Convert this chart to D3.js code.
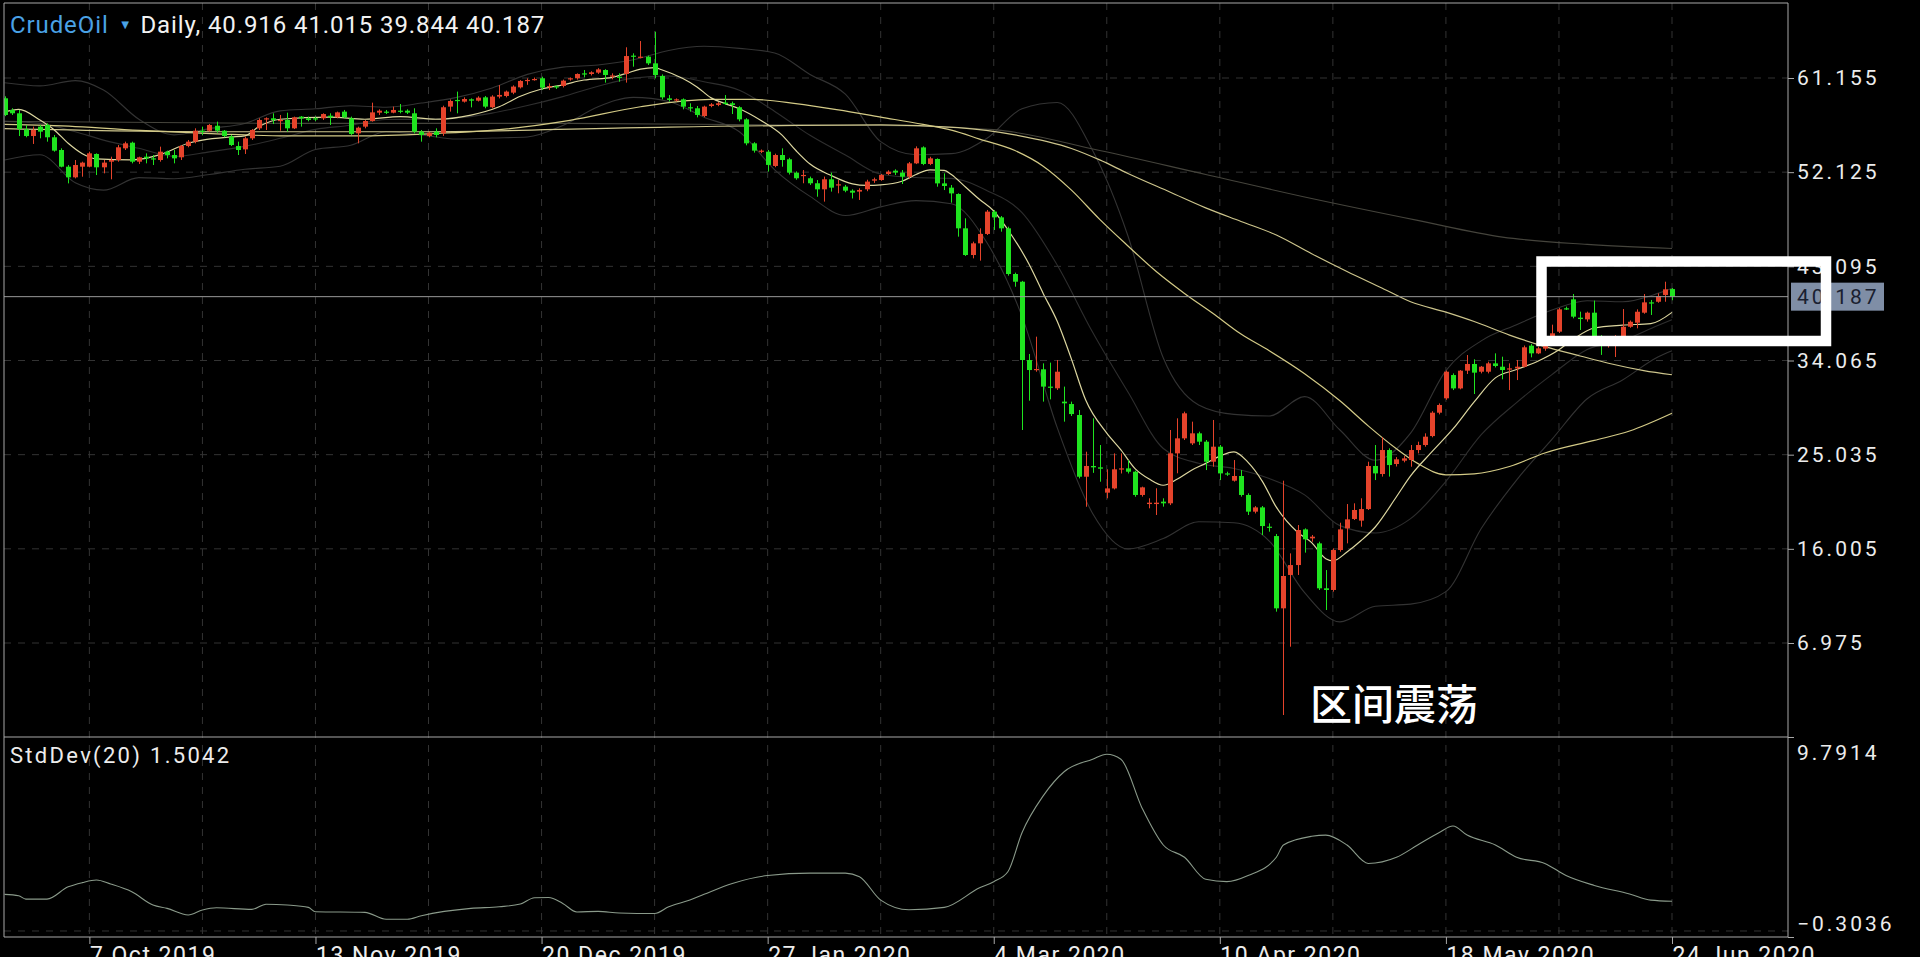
<!DOCTYPE html>
<html><head><meta charset="utf-8">
<script src="https://cdn.jsdelivr.net/npm/d3@7"></script>
<style>
html,body{margin:0;padding:0;background:#000;overflow:hidden}
svg{display:block}
text{font-family:Roboto,"Liberation Sans",sans-serif}
</style></head><body>
<svg id="c" width="1920" height="957"></svg>
<script>
// ---------- DATA ----------
const dateLabels = ["7 Oct 2019","13 Nov 2019","20 Dec 2019","27 Jan 2020","4 Mar 2020","10 Apr 2020","18 May 2020","24 Jun 2020"];
const dateIdx = [12,44,76,108,140,172,204,236];
const priceTicks = [61.155,52.125,43.095,34.065,25.035,16.005,6.975];
const stdTicks = [9.7914,-0.3036];
const lastPrice = 40.187;

const open = [
59.21,58.09,57.77,56.23,55.59,56.49,56.65,55.47,54.25,52.65,
51.63,52.65,52.65,53.87,52.59,53.13,53.29,54.41,54.95,53.13,
53.61,53.45,53.29,54.09,53.77,53.55,54.63,55.05,56.10,56.10,
56.58,56.10,55.53,54.63,54.31,55.37,56.33,57.19,57.29,57.07,
57.13,56.33,57.45,57.29,57.29,57.29,57.54,57.38,57.93,57.29,
55.85,56.49,57.03,57.83,57.93,57.83,58.02,58.02,57.77,56.01,
55.59,56.01,55.85,58.41,59.05,58.89,59.11,58.98,59.30,58.35,
59.37,59.43,59.75,60.26,60.87,61.00,61.13,60.26,60.36,60.39,
61.03,61.13,61.60,61.54,61.67,61.92,61.34,61.28,61.54,63.30,
63.10,63.20,62.56,61.35,59.20,59.05,59.11,58.35,58.25,57.51,
58.47,58.57,58.79,58.73,58.35,57.19,54.89,54.09,54.09,52.72,
53.77,53.36,52.08,51.76,51.54,51.06,50.48,51.44,50.90,50.74,
50.35,50.26,50.48,51.31,51.37,51.95,52.27,52.08,51.69,52.97,
54.50,52.91,53.39,51.05,50.64,50.03,46.74,44.18,45.30,46.20,
48.34,47.79,46.74,42.36,41.62,34.11,33.15,33.22,31.56,31.40,
30.12,29.89,28.84,22.92,23.95,23.82,21.39,21.80,23.63,23.72,
23.40,21.17,20.30,20.30,20.53,20.37,25.16,26.60,26.12,27.08,
26.28,24.36,25.80,23.24,22.54,22.99,21.17,19.57,19.98,18.13,
17.23,10.30,13.50,14.45,17.87,17.01,16.53,12.22,12.06,15.89,
17.97,18.87,18.71,19.82,23.95,23.18,25.48,24.14,24.46,24.52,
25.48,25.96,26.82,29.06,30.44,32.67,31.39,33.09,33.73,32.99,
32.99,33.79,33.47,33.22,33.31,33.47,35.49,34.75,35.20,35.90,
36.83,39.07,39.93,38.17,38.01,38.65,36.30,35.70,35.90,36.35,
37.30,37.69,38.65,39.64,39.70,40.35,40.916];
const high = [
59.40,58.25,58.09,56.65,56.49,56.65,56.81,55.69,54.41,52.81,
53.29,53.13,54.09,53.93,53.29,53.61,54.73,55.05,55.05,53.61,
53.93,53.77,54.57,54.19,54.25,54.73,55.21,56.33,56.49,56.74,
56.97,56.17,55.69,55.05,55.53,56.26,57.29,57.38,57.77,57.61,
57.83,57.45,57.51,57.45,57.45,57.77,57.77,57.93,58.09,57.45,
56.49,57.13,58.79,58.15,58.09,58.41,58.66,58.15,58.25,56.17,
56.01,56.33,58.50,59.10,59.85,59.30,59.20,59.40,59.43,59.50,
60.48,59.95,60.45,60.95,61.12,61.20,61.28,60.64,60.45,61.00,
61.20,61.60,61.92,61.80,62.10,62.00,61.60,61.60,64.10,63.52,
64.70,63.30,65.60,61.50,59.52,59.20,59.20,58.73,58.47,58.50,
58.75,58.85,59.52,58.89,58.45,57.30,55.00,54.30,54.25,53.90,
54.41,53.50,52.20,52.33,51.70,51.37,51.70,52.08,51.37,50.90,
50.48,50.58,51.40,51.60,51.95,52.30,52.40,52.33,53.10,54.60,
54.60,53.60,53.45,52.01,50.89,50.10,47.70,45.46,46.74,48.50,
48.50,47.92,46.90,42.49,41.70,34.69,36.35,33.79,33.86,34.11,
31.56,30.12,29.32,25.32,28.52,25.96,23.63,25.16,25.16,24.52,
23.50,21.97,20.85,21.81,20.85,27.40,28.52,29.16,28.20,27.24,
26.44,28.36,25.96,23.40,24.52,23.55,21.33,20.10,20.11,18.45,
17.43,22.54,15.57,18.29,17.97,17.33,16.69,13.97,16.05,18.51,
20.30,20.37,20.85,24.36,25.96,26.70,25.64,24.80,24.90,25.96,
26.28,27.08,29.20,29.95,33.10,32.83,33.15,34.59,34.18,33.54,
33.95,34.75,34.43,33.79,34.11,35.50,35.65,35.40,36.10,37.50,
39.10,39.23,40.44,38.75,38.75,39.81,36.50,36.30,36.50,39.00,
37.90,38.97,40.44,39.87,40.50,41.62,41.015];
const low = [
57.50,57.61,55.59,55.47,54.83,55.37,55.05,54.09,52.59,51.05,
51.53,51.69,52.59,51.85,52.01,51.44,53.13,54.25,52.97,52.91,
52.97,52.81,53.13,53.45,52.97,53.29,54.51,54.89,55.69,56.01,
55.91,55.47,54.63,53.77,53.87,55.21,56.17,56.17,56.74,56.10,
56.01,56.26,56.49,57.00,57.03,57.13,56.65,57.29,57.29,55.69,
54.89,56.33,56.97,57.61,57.70,57.77,57.77,57.70,55.85,55.05,
55.47,55.47,55.60,57.93,57.77,58.80,58.34,58.90,58.25,58.25,
59.20,59.30,59.60,60.15,60.50,60.90,60.00,60.00,60.10,60.25,
60.90,61.00,61.22,61.40,61.55,60.71,61.03,60.80,60.71,62.24,
63.04,62.40,61.12,59.10,58.89,58.90,58.15,57.93,57.38,57.40,
58.35,58.45,58.57,57.70,57.00,54.70,54.00,53.95,52.18,52.60,
52.65,51.90,51.40,51.06,50.90,49.77,49.30,50.26,50.10,50.20,
49.60,49.46,50.30,51.10,51.30,51.85,51.85,50.99,51.50,52.90,
52.80,52.80,50.73,50.41,49.20,45.94,44.09,43.86,43.64,46.10,
46.58,46.42,42.20,41.14,27.40,30.21,32.99,30.12,30.34,31.24,
28.20,28.74,22.76,20.04,23.29,22.44,20.85,21.70,23.23,23.23,
21.00,21.01,19.89,19.25,20.05,20.20,23.25,26.44,25.96,25.96,
23.56,23.88,22.60,23.00,22.45,21.01,19.25,19.40,17.33,17.65,
9.98,0.07,6.62,13.50,15.64,16.69,12.06,10.14,11.90,15.73,
16.53,18.77,18.13,19.73,22.60,22.93,22.93,23.90,24.30,23.88,
25.16,25.80,26.70,28.90,30.30,31.23,31.30,32.77,30.85,32.83,
32.83,33.40,32.26,31.23,32.19,33.40,34.37,34.68,35.00,35.80,
36.70,38.91,38.11,36.99,37.79,36.30,34.60,35.30,34.40,36.20,
37.20,37.15,38.55,38.43,39.60,39.70,39.844];
const close = [
57.61,57.77,56.26,55.59,56.17,56.01,55.47,54.19,52.65,51.63,
52.81,53.04,53.93,52.59,53.04,53.29,54.51,54.89,53.13,53.55,
53.45,53.36,54.09,53.77,53.45,54.63,55.05,56.10,56.01,56.65,
56.10,55.59,54.73,54.25,55.37,56.17,57.13,57.29,57.13,57.13,
56.33,57.38,57.29,57.13,57.19,57.70,57.38,57.86,57.38,55.79,
56.39,57.03,57.86,58.02,57.83,58.09,57.93,57.83,56.01,55.69,
55.91,55.69,58.35,58.95,58.98,59.14,58.98,59.27,58.41,59.37,
59.53,59.85,60.33,60.87,60.97,61.06,60.23,60.38,60.29,60.90,
61.13,61.54,61.51,61.70,61.98,61.44,61.40,61.22,63.26,63.20,
63.20,62.56,61.44,59.30,59.05,59.11,58.41,58.25,57.61,58.41,
58.63,58.73,58.66,58.57,57.19,54.89,54.19,54.19,52.82,53.77,
53.29,52.08,51.54,51.86,51.06,50.48,51.44,50.64,50.96,50.35,
50.16,50.42,51.22,51.44,51.85,52.17,52.08,51.69,52.97,54.41,
52.91,53.45,51.05,50.80,50.09,46.74,44.18,45.30,46.20,48.34,
47.79,46.74,42.36,41.62,34.11,33.15,33.25,31.56,31.46,32.99,
29.96,28.93,22.92,23.95,23.82,23.69,21.80,23.63,23.72,23.40,
21.17,21.90,20.43,20.43,20.37,25.16,26.60,29.00,27.08,26.28,
24.36,25.80,23.24,23.18,22.99,21.17,19.57,19.98,18.19,18.07,
10.30,13.40,14.45,17.81,16.92,17.17,12.22,12.06,15.89,17.87,
18.83,19.73,19.82,23.95,23.24,25.48,24.04,24.59,24.68,25.48,
25.96,26.76,29.06,29.80,32.99,31.39,33.09,33.73,32.90,33.47,
33.79,33.54,33.15,33.31,33.47,35.33,34.75,35.23,35.90,36.67,
38.97,38.97,38.27,38.04,38.65,36.35,35.70,36.00,36.30,37.30,
37.78,38.74,39.64,39.55,40.25,40.89,40.187];

// moving averages and bands, read as [bar, value] at sample bars
const ma10 = [[0,57.9],[2,58.15],[5,57.13],[7,56.2],[9,54.9],[11,53.9],[13,53.4],[18,53.3],[22,53.8],[26,54.9],[28,55.2],[32,55.5],[34,55.6],[36,56.5],[39,57.2],[46,57.4],[51,57.2],[56,57.45],[61,57.2],[66,57.6],[70,58.4],[73,59.4],[76,60.1],[79,60.5],[82,60.96],[86,61.22],[88,61.6],[90,62.0],[92,62.15],[93,61.95],[96,61.1],[98,60.3],[100,59.25],[102,58.7],[104,58.2],[107,57.1],[110,55.7],[112,54.2],[114,52.9],[117,51.8],[120,51.0],[122,50.85],[124,50.9],[127,51.25],[129,51.9],[131,52.35],[133,52.3],[134,51.9],[136,50.7],[138,49.5],[140,48.4],[142,46.6],[145,43.3],[147,40.5],[149,37.8],[151,34.2],[153,30.3],[156,27.1],[158,25.5],[160,23.7],[162,22.7],[164,22.1],[166,22.7],[168,23.55],[170,24.2],[172,24.9],[174,25.3],[176,24.3],[178,22.5],[180,20.0],[183,17.6],[185,16.6],[187,15.06],[188,14.85],[190,15.7],[192,16.8],[194,18.1],[197,21.0],[199,23.0],[202,25.3],[205,27.5],[208,30.1],[211,32.4],[214,33.2],[217,34.0],[220,35.1],[222,36.1],[225,37.18],[229,37.46],[233,37.6],[236,38.68]];
const ma60 = [[0,56.7],[10,56.5],[20,56.1],[30,55.8],[40,55.6],[50,55.6],[60,55.8],[70,56.2],[80,57.1],[90,58.4],[100,59.1],[106,59.1],[112,58.7],[118,58.1],[124,57.4],[130,56.7],[134,56.15],[138,55.3],[143,54.2],[147,52.7],[151,50.4],[155,47.6],[159,45.05],[163,42.6],[167,40.5],[171,38.6],[175,36.6],[179,35.0],[184,32.8],[189,30.2],[193,27.8],[197,25.6],[200,24.2],[204,23.1],[208,23.2],[213,23.9],[218,25.2],[225,26.4],[230,27.3],[236,29.0]];
const ma120 = [[0,56.3],[30,56.0],[60,56.0],[90,56.4],[124,56.66],[135,56.4],[143,55.7],[151,54.4],[155,53.3],[159,52.0],[165,50.2],[170,48.7],[175,47.4],[180,46.1],[185,44.3],[190,42.6],[195,41.0],[199,39.7],[204,38.7],[208,37.8],[213,36.5],[218,35.4],[223,34.5],[227,33.8],[232,33.1],[236,32.7]];
const ma240 = [[0,57.0],[40,56.8],[80,56.8],[124,56.6],[140,56.2],[155,54.2],[170,51.9],[185,49.6],[200,47.5],[212,45.9],[224,45.2],[236,44.8]];
const bbMid = [[0,57.0],[5,56.8],[10,56.0],[14,55.2],[19,54.41],[24,53.64],[29,54.07],[34,54.6],[39,55.37],[44,56.23],[49,56.62],[54,57.17],[59,57.21],[64,57.33],[69,57.79],[74,58.51],[79,59.37],[84,60.37],[89,61.14],[94,61.34],[99,60.79],[104,59.98],[109,57.95],[114,55.66],[119,53.77],[124,51.93],[129,51.61],[134,51.53],[139,50.37],[144,48.25],[149,43.2],[154,36.77],[159,31.04],[164,25.63],[169,24.21],[174,23.71],[179,22.75],[184,21.18],[189,18.23],[194,17.53],[199,18.9],[204,22.48],[209,26.95],[214,30.03],[219,32.71],[224,35.13],[229,35.98],[234,37.43],[236,37.98]];
const bbUp = [[0,60.7],[5,60.4],[10,60.9],[14,60.0],[19,57.2],[24,55.7],[29,56.3],[34,56.8],[39,58.0],[44,58.2],[49,58.5],[54,58.35],[59,58.75],[64,59.3],[69,60.2],[74,61.5],[79,62.2],[84,62.4],[89,62.9],[94,63.8],[99,64.2],[104,64.0],[109,63.55],[114,61.5],[119,59.6],[124,55.05],[129,53.8],[134,53.9],[139,55.35],[144,58.2],[149,58.8],[154,54.2],[159,46.0],[164,34.3],[169,29.8],[174,28.9],[179,28.75],[184,30.6],[189,27.4],[194,24.5],[199,27.1],[204,33.1],[209,35.95],[214,37.5],[219,38.9],[224,39.8],[229,39.7],[234,40.5],[236,41.0]];
const bbLow = [[0,53.3],[5,53.8],[10,51.1],[14,50.4],[19,51.6],[24,51.5],[29,51.9],[34,52.4],[39,52.7],[44,54.3],[49,54.7],[54,56.0],[59,55.7],[64,55.3],[69,55.4],[74,55.5],[79,56.6],[84,58.4],[89,59.3],[94,58.9],[99,57.4],[104,56.0],[109,52.35],[114,49.8],[119,47.97],[124,48.8],[129,49.4],[134,49.1],[139,45.4],[144,38.3],[149,27.6],[154,19.4],[159,16.0],[164,17.0],[169,18.6],[174,18.5],[179,16.75],[184,11.8],[189,9.0],[194,10.5],[199,10.7],[204,11.9],[209,17.95],[214,22.6],[219,26.5],[224,30.4],[229,32.2],[234,34.4],[236,35.0]];
const stdDev = [[0,1.85],[2,1.78],[3,1.61],[6,1.61],[9,2.23],[11,2.44],[13,2.57],[15,2.37],[18,1.98],[21,1.31],[23,1.14],[26,0.81],[28,1.06],[30,1.17],[35,1.09],[37,1.35],[40,1.31],[43,1.19],[44,0.97],[51,0.94],[54,0.59],[57,0.59],[59,0.77],[66,1.14],[70,1.22],[73,1.36],[75,1.68],[77,1.69],[79,1.39],[81,0.96],[84,0.99],[87,0.91],[92,0.88],[94,1.22],[97,1.56],[99,1.85],[103,2.4],[108,2.8],[114,2.92],[119,2.92],[121,2.74],[124,1.56],[128,1.07],[133,1.19],[138,2.18],[140,2.49],[142,2.99],[144,4.96],[147,6.82],[150,8.05],[154,8.67],[156,8.92],[158,8.67],[161,6.2],[164,4.34],[167,3.72],[170,2.61],[173,2.49],[176,2.8],[180,3.72],[181,4.34],[185,4.78],[187,4.84],[190,4.34],[193,3.41],[197,3.72],[200,4.34],[203,4.96],[205,5.3],[207,4.84],[211,4.34],[214,3.72],[218,3.41],[221,2.8],[225,2.3],[230,1.87],[233,1.56],[236,1.5042]];

// ---------- LAYOUT ----------
const svg = d3.select("#c");
const L = 4, R = 1788, T = 3, MID = 737, B = 937;
svg.append("rect").attr("width",1920).attr("height",957).attr("fill","#000");

const x = d3.scaleLinear().domain([0,236]).range([4.6,1672]);
const y = d3.scaleLinear().domain([6.975,61.155]).range([643,78]);
const ys = d3.scaleLinear().domain([-0.3036,9.7914]).range([B,MID]);

const defs = svg.append("defs");
defs.append("clipPath").attr("id","cm").append("rect").attr("x",L).attr("y",T).attr("width",R-L).attr("height",MID-T);
defs.append("clipPath").attr("id","cs").append("rect").attr("x",L).attr("y",MID).attr("width",R-L).attr("height",B-MID);

const gridCol = "#333333";
const g = svg.append("g");
d3.range(12,237,16).forEach(i=>{
  g.append("line").attr("x1",x(i)).attr("x2",x(i)).attr("y1",T).attr("y2",B)
   .attr("stroke",gridCol).attr("stroke-dasharray","7,7");
});
priceTicks.forEach(v=>{
  g.append("line").attr("x1",L).attr("x2",R).attr("y1",y(v)).attr("y2",y(v))
   .attr("stroke",gridCol).attr("stroke-dasharray","7,7");
});
g.append("line").attr("x1",L).attr("x2",R).attr("y1",ys(0)).attr("y2",ys(0))
 .attr("stroke",gridCol).attr("stroke-dasharray","7,7");

const main = svg.append("g").attr("clip-path","url(#cm)");
const lineGen = d3.line().x(d=>x(d[0])).y(d=>y(d[1])).curve(d3.curveMonotoneX);
function drawLine(data,color,w){
  main.append("path").attr("d",lineGen(data)).attr("fill","none").attr("stroke",color).attr("stroke-width",w);
}
drawLine(bbUp,"#333333",1.1);
drawLine(bbMid,"#2e2e2e",1.1);
drawLine(bbLow,"#333333",1.1);
drawLine(ma240,"#45443c",1.1);
drawLine(ma120,"#cdc58c",1.2);
drawLine(ma60,"#d3ca86",1.2);
drawLine(ma10,"#ddd7a0",1.2);

const up = "#e5432b", dn = "#1fe41f";
const cg = main.append("g");
close.forEach((c,i)=>{
  const o = open[i], col = c >= o ? up : dn;
  const cx = Math.round(x(i)) + 0.5;
  cg.append("line").attr("x1",cx).attr("x2",cx).attr("y1",y(high[i])).attr("y2",y(low[i]))
    .attr("stroke",col).attr("stroke-width",1);
  const top = y(Math.max(o,c)), bot = y(Math.min(o,c));
  cg.append("rect").attr("x",cx-2.5).attr("y",top).attr("width",5).attr("height",Math.max(1.2,bot-top))
    .attr("fill",col);
});

svg.append("line").attr("x1",L).attr("x2",R).attr("y1",y(lastPrice)).attr("y2",y(lastPrice))
  .attr("stroke","#9a9a9a").attr("stroke-width",1);

const sLine = d3.line().x(d=>x(d[0])).y(d=>ys(d[1])).curve(d3.curveMonotoneX);
svg.append("g").attr("clip-path","url(#cs)").append("path").attr("d",sLine(stdDev))
  .attr("fill","none").attr("stroke","#8a9a8a").attr("stroke-width",1.1);

const fc = "#a8a8a8";
svg.append("line").attr("x1",L).attr("x2",L).attr("y1",T).attr("y2",B).attr("stroke",fc);
svg.append("line").attr("x1",L).attr("x2",R).attr("y1",T).attr("y2",T).attr("stroke",fc);
svg.append("line").attr("x1",L).attr("x2",R).attr("y1",MID).attr("y2",MID).attr("stroke",fc);

const ax = svg.append("g").attr("transform",`translate(${R},0)`)
  .call(d3.axisRight(y).tickValues(priceTicks).tickFormat(d3.format(".3f")).tickSize(6).tickPadding(3));
const axs = svg.append("g").attr("transform",`translate(${R},0)`)
  .call(d3.axisRight(ys).tickValues(stdTicks).tickFormat(d3.format(".4f")).tickSize(6).tickPadding(3));
const bx = svg.append("g").attr("transform",`translate(0,${B})`)
  .call(d3.axisBottom(x).tickValues(dateIdx).tickFormat((d,k)=>dateLabels[k]).tickSize(7).tickPadding(2));
[ax,axs,bx].forEach(a=>{
  a.select(".domain").attr("stroke",fc);
  a.selectAll(".tick line").attr("stroke",fc);
  a.selectAll("text").attr("fill","#ececec").style("font-family","Roboto, sans-serif");
});
ax.select(".domain").attr("d",`M0,${T}V${MID}`);
axs.select(".domain").attr("d",`M0,${MID}V${B}`);
bx.select(".domain").attr("d",`M${L},0H${R}`);
ax.selectAll("text").style("font-size","21px").style("letter-spacing","3px");
axs.selectAll("text").style("font-size","21px").style("letter-spacing","3px")
  .attr("dy",(d)=> d>5 ? "1.05em" : "-0.3em");
bx.selectAll("text").style("font-size","23px").style("letter-spacing","1.5px")
  .attr("text-anchor","start").attr("dy","0.75em").attr("x",0);

const lp = svg.append("g");
lp.append("rect").attr("x",1791).attr("y",y(lastPrice)-14).attr("width",93).attr("height",28).attr("fill","#7f8ea6");
lp.append("text").attr("x",1797).attr("y",y(lastPrice)).attr("dy","0.35em")
  .style("font-size","21px").style("letter-spacing","3px").attr("fill","#1a2030").text(d3.format(".3f")(lastPrice));

const hd = svg.append("text").attr("x",10).attr("y",33).style("font-size","24px").style("letter-spacing","0.9px");
hd.append("tspan").attr("fill","#4aa2e6").text("CrudeOil");
hd.append("tspan").attr("fill","#4aa2e6").style("font-size","13px").attr("dx","10").attr("dy","-4").text("▼");
hd.append("tspan").attr("fill","#f2f2f2").attr("dx","8").attr("dy","4").text("Daily, 40.916 41.015 39.844 40.187");

svg.append("text").attr("x",10).attr("y",763).style("font-size","22px").style("letter-spacing","2.3px")
  .attr("fill","#ececec").text("StdDev(20) 1.5042");

svg.append("rect").attr("x",1541.5).attr("y",261.5).attr("width",284.5).attr("height",79.5)
  .attr("fill","none").attr("stroke","#ffffff").attr("stroke-width",10.5);
svg.append("text").attr("x",1310).attr("y",720).attr("fill","#ffffff")
  .style("font-family","'Noto Sans CJK SC', sans-serif").style("font-size","42px").style("font-weight","500")
  .text("区间震荡");
</script>
</body></html>
